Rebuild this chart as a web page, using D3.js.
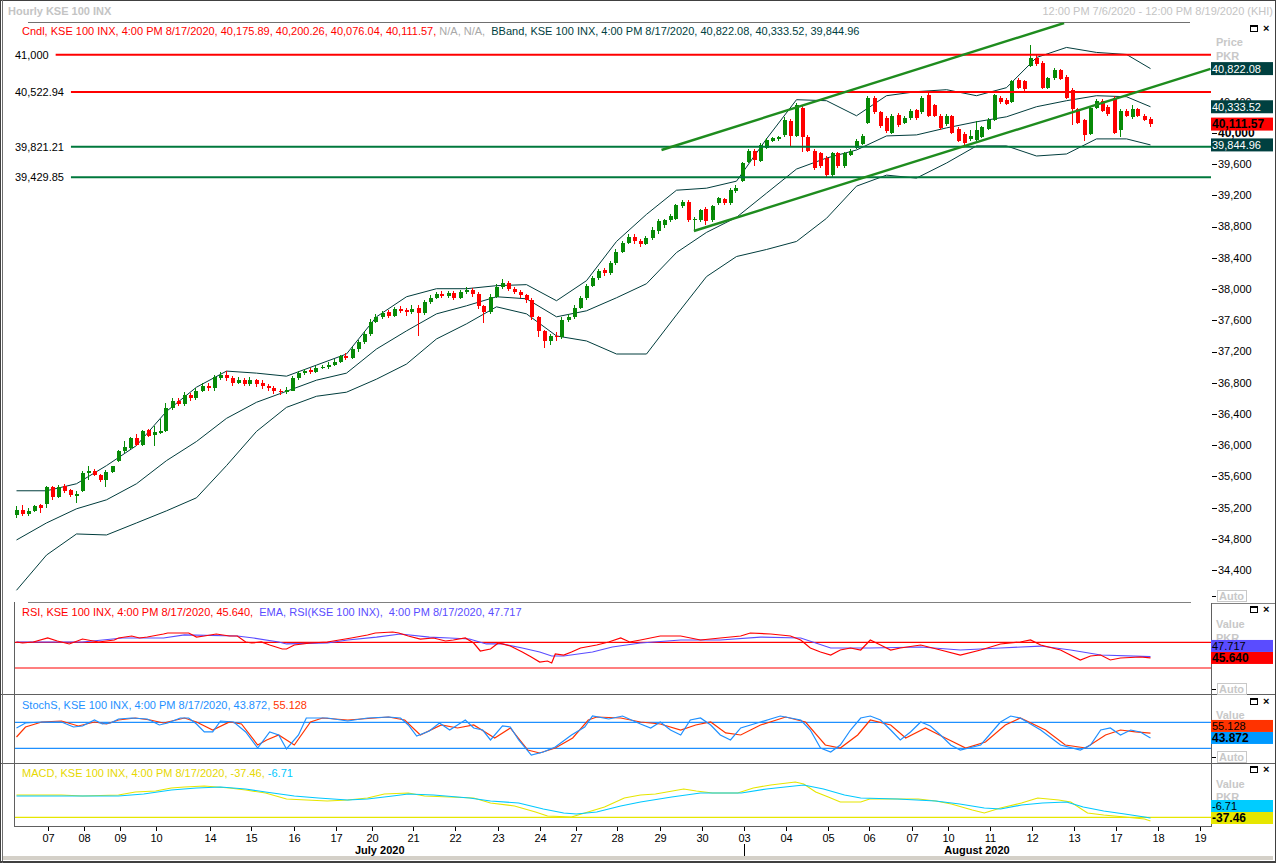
<!DOCTYPE html>
<html><head><meta charset="utf-8">
<script src="https://cdn.jsdelivr.net/npm/d3@7"></script>
<style>
html,body{margin:0;padding:0;background:#fff;overflow:hidden}
svg{display:block;font-family:"Liberation Sans",Arial,sans-serif;font-size:11px}
text{white-space:pre}
</style></head><body><svg id="c" width="1276" height="863"></svg>
<script>
// ---------- DATA ----------
const opens = [35110,35170,35120,35160,35230,35250,35460,35340,35480,35430,
35350,35420,35640,35670,35620,35550,35660,35800,35920,35970,
36090,36000,36190,36130,36160,36180,36480,36560,36530,36640,
36600,36700,36760,36730,36860,36900,36860,36800,36840,36780,
36840,36800,36760,36730,36700,36680,36700,36860,36920,36960,
36940,36990,37000,37030,37070,37140,37120,37230,37320,37420,
37580,37640,37700,37660,37740,37730,37700,37760,37690,37830,
37890,37940,37910,37950,37890,37960,37990,37940,37780,37700,
37900,38030,38080,38000,37960,37920,37860,37640,37460,37340,
37400,37380,37600,37640,37760,37880,38040,38140,38240,38200,
38330,38480,38590,38660,38620,38580,38650,38740,38820,38880,
38900,39060,39120,38880,38880,39030,38880,39100,39150,39100,
39260,39380,39630,39770,39640,39810,39900,39920,39970,40150,
39960,40320,39950,39770,39740,39680,39460,39740,39570,39720,
39810,39860,40130,40450,40260,40190,40000,40230,40130,40190,
40290,40260,40490,40350,40220,40110,40210,40050,39990,39920,
39910,39950,40050,40170,40450,40420,40400,40680,40660,40860,
40960,40900,40580,40700,40800,40720,40550,40300,40160,39990,
40320,40410,40330,40450,40040,40280,40200,40300,40220,40175.89];
const highs = [35220,35240,35190,35240,35250,35480,35480,35490,35500,35440,
35420,35670,35740,35690,35630,35680,35740,35940,36050,36100,
36140,36200,36210,36240,36330,36540,36600,36600,36680,36670,
36730,36800,36800,36900,36940,36950,36880,36870,36860,36870,
36850,36830,36780,36760,36720,36740,36880,36950,36980,36990,
37010,37030,37060,37100,37160,37180,37260,37350,37460,37620,
37680,37720,37730,37770,37780,37760,37790,37790,37860,37920,
37960,37970,37980,37980,37990,38030,38010,37960,37800,37930,
38060,38130,38100,38030,37990,37940,37880,37660,37480,37430,
37450,37640,37680,37790,37910,38070,38170,38260,38270,38360,
38510,38620,38700,38700,38640,38680,38790,38900,38900,38960,
39090,39140,39140,38920,39030,39050,39080,39180,39170,39290,
39330,39630,39790,39790,39870,39930,39950,39960,40200,40180,
40380,40350,39970,39790,39760,39700,39760,39760,39760,39790,
39920,39980,40470,40470,40280,40210,40240,40250,40210,40300,
40310,40470,40510,40370,40240,40240,40230,40070,40010,40030,
40150,40090,40190,40500,40470,40440,40680,40700,40680,41130,
41000,40920,40720,40830,40820,40740,40570,40320,40180,40340,
40430,40430,40350,40470,40300,40300,40350,40320,40240,40200.26];
const lows = [35070,35100,35100,35140,35130,35200,35300,35320,35390,35340,
35260,35400,35560,35600,35530,35460,35640,35780,35900,35950,
35990,35990,36110,35990,36140,36170,36450,36500,36500,36560,
36580,36680,36700,36700,36830,36820,36760,36780,36760,36760,
36750,36720,36700,36660,36640,36650,36690,36840,36900,36910,
36920,36970,36980,37010,37050,37090,37100,37200,37300,37400,
37560,37620,37630,37640,37690,37660,37680,37400,37670,37810,
37870,37880,37890,37860,37870,37940,37900,37740,37560,37680,
37880,38000,37970,37930,37890,37820,37600,37380,37240,37280,
37330,37360,37580,37620,37740,37860,38020,38110,38170,38180,
38310,38460,38570,38580,38540,38560,38630,38700,38780,38860,
38880,39040,38860,38750,38860,38820,38860,39080,39080,39080,
39230,39370,39610,39580,39620,39790,39880,39900,39950,39830,
39940,39760,39750,39530,39550,39440,39440,39550,39550,39700,
39790,39840,40110,40240,40060,40000,39980,40080,40110,40170,
40170,40240,40200,40200,40040,40090,39980,39880,39850,39900,
39890,39930,40030,40150,40370,40350,40380,40560,40540,40840,
40860,40560,40560,40680,40670,40430,40100,40110,39900,39970,
40300,40260,40220,39980,39950,40200,40180,40200,40150,40076.04];
const closes = [35170,35120,35160,35220,35200,35460,35340,35470,35410,35360,
35380,35650,35670,35620,35550,35660,35730,35930,35980,36090,
36000,36180,36120,36170,36180,36480,36560,36530,36640,36600,
36700,36760,36730,36870,36900,36860,36800,36840,36780,36840,
36790,36760,36730,36700,36680,36710,36860,36920,36950,36940,
36990,37000,37030,37070,37140,37120,37230,37320,37420,37580,
37640,37690,37660,37740,37720,37700,37750,37690,37830,37890,
37930,37910,37950,37890,37960,37990,37940,37780,37700,37900,
38030,38080,38000,37960,37920,37860,37640,37460,37340,37400,
37380,37600,37640,37760,37880,38040,38140,38230,38200,38330,
38480,38590,38660,38620,38580,38650,38760,38870,38880,38940,
39070,39120,38880,38900,39010,38870,39060,39160,39100,39270,
39290,39610,39770,39650,39850,39910,39930,39940,40170,39960,
40350,39950,39770,39550,39570,39460,39740,39570,39740,39770,
39900,39960,40450,40260,40090,40020,40220,40100,40190,40280,
40190,40450,40220,40220,40060,40220,40000,39900,39870,39960,
40040,40070,40170,40480,40390,40370,40660,40580,40560,40960,
40880,40580,40700,40810,40690,40450,40300,40130,39970,40320,
40410,40280,40240,40000,40280,40220,40300,40220,40170,40111.57];

const bbIdx = [0,5,10,15,20,25,30,35,40,45,50,55,60,65,70,75,80,85,90,95,100,105,110,115,120,125,130,135,140,145,150,155,160,165,170,175,180,185,189];
const bbUpper = [35417,35417,35507,35739,35996,36434,36743,36949,36923,36884,37026,37168,37644,37901,38004,38004,38043,38056,37850,38107,38609,38956,39265,39291,39381,39922,40424,40411,40218,40475,40527,40552,40475,40578,40964,41093,41029,41003,40822.08];
const bbMid = [34787,35005,35186,35301,35507,35803,36048,36344,36550,36691,36833,36923,37232,37464,37682,37785,37901,37875,37644,37721,37888,38068,38467,38725,38918,39227,39536,39677,39780,39960,39973,40063,40141,40205,40334,40411,40475,40462,40333.52];
const bbLower = [34143,34594,34864,34851,35005,35160,35327,35739,36177,36485,36627,36679,36846,37039,37361,37554,37772,37682,37399,37335,37168,37168,37669,38159,38416,38506,38609,38905,39317,39458,39420,39613,39832,39832,39703,39729,39922,39922,39844.96];

const levelValues = [41000, 40522.94, 39821.21, 39429.85];
const levelLabels = ["41,000", "40,522.94", "39,821.21", "39,429.85"];
const channelUpper = [[107.5, 39780], [174.6, 41406]];
const channelLower = [[112.9, 38743], [199, 40819]];

const rsiLine = [[0,70.5],[1,68.9],[2.8,70.5],[5.2,76.7],[6.8,72],[8.8,67.4],[11,75.1],[13.7,70.5],[16.3,73.6],[17,76.7],[19.2,79.8],[20.5,76.7],[21.8,78.2],[24.5,82.9],[25.2,84.5],[28.7,84.5],[30,78.2],[31.3,79.8],[33.3,82.9],[35.5,79.8],[36.8,79.8],[38.2,70.5],[39.2,68.9],[40.8,70.5],[42.2,65.8],[44.3,59.6],[45,59.6],[46.3,65.8],[49,68.9],[51.8,70.5],[53.8,73.6],[55.8,76.7],[58.5,81.4],[59.8,84.5],[62.7,86],[63.7,84.5],[65.3,79.8],[67.3,75.1],[69.5,76.7],[71.5,72],[72.8,73.6],[74.8,76.7],[76.2,68.9],[77.3,56.5],[79,59.6],[80.3,68.9],[82.3,64.2],[84.3,54.9],[85.8,47.1],[87.2,39.3],[88.5,40.9],[89.2,37.8],[89.8,51.8],[91.2,50.2],[92.5,54.9],[94,61.1],[96.7,65.8],[98.7,70.5],[100.7,76.7],[102.2,70.5],[104,73.6],[107.3,79.8],[110.7,79.8],[114,73.6],[117.3,76.7],[120.7,79.8],[122.3,84.5],[125.7,82.9],[129,79.8],[130.7,73.6],[132.3,61.1],[134,54.9],[135.7,50.2],[137.3,58],[139,61.1],[140.7,58],[142.3,73.6],[144,65.8],[145.7,58],[147.3,61.1],[150.7,65.8],[154,58],[157.3,50.2],[160.7,58],[164,67.4],[167.3,70.5],[169,73.6],[170.7,65.8],[174,58],[177.3,42.5],[179,48.7],[180.7,50.2],[182.3,42.5],[184,45.6],[187.3,47.1],[189,45.64]];
const rsiEma = [[0,70.5],[11,70.5],[17.7,76.7],[24.5,76.7],[28,81.4],[36.8,79.8],[39.5,76.7],[43.7,70.5],[45,67.4],[51.8,68.9],[55.2,73.6],[60,78.2],[64,82.9],[68.8,78.2],[72.2,76.7],[75.5,75.1],[78.3,67.4],[81,67.4],[84.3,61.1],[87.2,54.9],[89.2,48.7],[91.2,48.7],[96,54.9],[99.3,62.7],[104,68.9],[110.7,73.6],[117.3,73.6],[124,78.2],[130.7,76.7],[135.7,61.1],[142.3,61.1],[150.7,62.7],[157.3,58],[164,61.1],[170.7,64.2],[175.7,58],[180.7,50.2],[189,47.717]];
const stochK = [[0,66.9],[1.5,78.4],[4.2,80.7],[7.5,80.7],[9.5,69.2],[11,71.5],[13,85.3],[14.3,76.1],[15.7,78.4],[17,87.6],[19.2,89.9],[21.8,87.6],[23.8,73.8],[25.2,78.4],[27.3,89.9],[28.7,89.9],[30,76.1],[31.3,57.7],[32.7,57.7],[34,83],[36.2,80.7],[38.2,57.7],[40.2,20.7],[42.2,57.7],[43.7,50.7],[45,18.4],[47,50.7],[48.3,89.9],[51.8,89.9],[55.2,83],[58.5,89.9],[62,92.2],[64,89.9],[65.3,73.8],[66.7,48.4],[68.8,60],[70.5,78.4],[72.2,62.2],[74.8,85.3],[76.2,66.9],[77.7,62.2],[79,39.2],[81,71.5],[82.3,69.2],[83.7,39.2],[85.8,4.5],[87.8,11.5],[89.8,23],[92.5,50.7],[94.7,69.2],[96,94.5],[98.7,87.6],[101,94.5],[104,76.1],[105.7,66.9],[107.3,80.7],[109,62.2],[110.7,50.7],[112.3,85.3],[114,89.9],[115.7,73.8],[117.3,50.7],[119,39.2],[120.7,66.9],[124,80.7],[127.3,94.5],[130.7,85.3],[132.3,62.2],[134,20.7],[135.7,11.5],[137.3,27.6],[139,62.2],[140.7,89.9],[142.3,94.5],[144,85.3],[145.7,62.2],[147.3,39.2],[149,57.7],[150.7,80.7],[152.3,71.5],[154,50.7],[155.7,27.6],[157.3,16.1],[160.7,27.6],[164,80.7],[165.7,94.5],[167.3,89.9],[170.7,62.2],[174,27.6],[177.3,16.1],[179,27.6],[180.7,62.2],[182.3,66.9],[184,50.7],[185.7,62.2],[187.3,57.7],[189,43.872]];
const stochD = [[0,46.1],[1.5,69.2],[4.2,80.7],[7.5,83],[10.3,71.5],[13,80.7],[15,76.1],[17,85.3],[19.8,89.9],[22.3,85.3],[24.5,78.4],[28,89.9],[30,80.7],[32.7,62.2],[35.5,80.7],[37.5,76.1],[40.2,27.6],[41.7,39.2],[43.7,50.7],[46.3,27.6],[49,80.7],[51,89.9],[55.2,85.3],[62,92.2],[64.7,85.3],[67.3,50.7],[70.8,73.8],[73.5,66.9],[76.2,73.8],[79.7,43.8],[82.3,66.9],[85.2,16.1],[87.2,9.2],[89.8,20.7],[92.7,43.8],[95.3,85.3],[96.7,92.2],[100.7,89.9],[104,80.7],[107.3,76.1],[110.7,62.2],[113.2,73.8],[115.7,80.7],[118.2,55.4],[120.7,50.7],[124,73.8],[128.2,92.2],[131.5,80.7],[134.8,27.6],[137.3,20.7],[140.2,50.7],[142.3,85.3],[145.7,73.8],[148.2,43.8],[151.5,66.9],[154.8,43.8],[158.2,20.7],[161.5,34.5],[164.8,73.8],[167.3,89.9],[171.5,62.2],[174.8,27.6],[178.2,20.7],[181.5,50.7],[184,62.2],[186.5,57.7],[189,55.128]];
const macdLine = [[0,223],[4.2,223],[7.5,223],[11,213],[17,223],[19.8,253],[23.2,263],[25.8,293],[28,303],[31.3,313],[35.5,293],[38.2,273],[41.5,243],[45,183],[48.3,173],[51.8,163],[55.2,173],[58.5,193],[61.3,233],[65.3,243],[68,213],[72.2,203],[76.2,193],[79,143],[83,113],[86.5,53],[88.5,13],[92.5,3],[94.7,43],[98,103],[101.3,193],[104,223],[106.5,233],[111.2,283],[113.3,263],[116,243],[120.2,243],[122.8,293],[125.7,323],[129.8,353],[131.2,333],[133.2,253],[135.3,203],[137.3,153],[140.7,153],[142.2,183],[146.8,183],[150.3,183],[153.2,163],[155.8,133],[159.3,73],[161.3,43],[164,93],[167.5,143],[170.2,193],[173.7,173],[175.7,153],[178.5,43],[181.2,23],[184.7,3],[188,-17],[189,-37.46]];
const macdSignal = [[0,213],[17,213],[21.2,233],[25.8,273],[30,293],[34,303],[38.2,283],[41.5,253],[46.3,213],[50.3,193],[55.2,173],[58.5,183],[62.7,213],[65.3,233],[69.5,223],[75.5,193],[79,163],[83.7,143],[87.8,83],[91.2,43],[93.3,33],[96.7,53],[100.7,113],[104,153],[109.2,203],[114,243],[120.8,243],[125,283],[131.2,323],[134.5,283],[138,223],[140.7,193],[146.8,183],[153.2,163],[157.2,133],[161.3,93],[164,83],[167.5,123],[171,143],[175,153],[177.8,103],[181.2,63],[184.7,33],[188,3],[189,-6.71]];

const dayIdx = [5,11,17,23,32,39,46,53,59,66,73,80,87,93,100,107,114,121,128,135,142,149,155,162,169,176,183,190,197];
const dayLabels = ["07","08","09","10","14","15","16","17","20","21","22","23","24","27","28","29","30","03","04","05","06","07","10","11","12","13","17","18","19"];
const monthLabels = ["July 2020", "August 2020"];
const monthStart = [0, 121];
const priceTicks = [34400,34800,35200,35600,36000,36400,36800,37200,37600,38000,38400,38800,39200,39600,40000,40400];

// ---------- LAYOUT ----------
const svg = d3.select('#c');
const PL = 14, PR = 1211;
const x = d3.scaleLinear().domain([0, 199]).range([16.5, 1210.5]);
const yP = d3.scaleLinear().domain([34400, 41000]).range([570.2, 54.7]);
const yR = d3.scaleLinear().domain([30, 70]).range([668, 642.3]);
const yS = d3.scaleLinear().domain([20, 80]).range([748.3, 722.3]);
const yM = d3.scaleLinear().domain([0, 300]).range([817.3, 787.3]);

svg.append('rect').attr('width', 1276).attr('height', 863).attr('fill', '#fff');
const defs = svg.append('defs');
function clip(id, x0, y0, x1, y1) {
  defs.append('clipPath').attr('id', id).append('rect')
    .attr('x', x0).attr('y', y0).attr('width', x1 - x0).attr('height', y1 - y0);
}
clip('cMain', PL, 22.5, PR, 602);
clip('cRsi', PL + 1, 603, PR, 694);
clip('cSto', PL + 1, 695, PR, 763);
clip('cMacd', PL + 1, 764, PR, 826.5);

function hline(y, x1, x2, c, w) {
  svg.append('line').attr('x1', x1).attr('x2', x2).attr('y1', y).attr('y2', y)
    .attr('stroke', c).attr('stroke-width', w || 1).attr('shape-rendering', 'crispEdges');
}
function vline(xx, y1, y2, c, w) {
  svg.append('line').attr('x1', xx).attr('x2', xx).attr('y1', y1).attr('y2', y2)
    .attr('stroke', c).attr('stroke-width', w || 1).attr('shape-rendering', 'crispEdges');
}

// Titles
svg.append('text').attr('x', 8).attr('y', 15).attr('fill', '#c4c4c4').attr('font-weight', 'bold')
  .text('Hourly KSE 100 INX');
svg.append('text').attr('x', 1273).attr('y', 15).attr('fill', '#c4c4c4').attr('text-anchor', 'end')
  .text('12:00 PM 7/6/2020 - 12:00 PM 8/19/2020 (KHI)');

// panel separators / frame
hline(22.5, 28, 1190, '#707070');
hline(602.5, 28, 1191, '#808080');
hline(603.5, PR, 1276, '#808080');
hline(694.5, 0, 1276, '#606060');
hline(763.5, 0, 1276, '#606060');
hline(826.5, PL, PR, '#606060');
vline(PL + 0.5, 602, 827, '#606060');
vline(PR + 0.5, 603, 827, '#606060');

// ---------- MAIN PANEL ----------
const gM = svg.append('g').attr('clip-path', 'url(#cMain)');
const bbGen = d3.line().x((d, k) => x(bbIdx[k])).y(d => yP(d));
[bbUpper, bbMid, bbLower].forEach(arr => {
  gM.append('path').attr('d', bbGen(arr)).attr('fill', 'none')
    .attr('stroke', '#003c3c').attr('stroke-width', 1);
});

const candles = closes.map((c, i) => ({ i, o: opens[i], h: highs[i], l: lows[i], c }));
const col = d => d.c >= d.o ? '#078a07' : '#ff0000';
gM.selectAll('rect.wick').data(candles).join('rect').attr('class', 'wick')
  .attr('x', d => Math.round(x(d.i)) - 1).attr('width', 1)
  .attr('y', d => yP(d.h)).attr('height', d => Math.max(1, yP(d.l) - yP(d.h)))
  .attr('fill', col).attr('shape-rendering', 'crispEdges');
gM.selectAll('rect.body').data(candles).join('rect').attr('class', 'body')
  .attr('x', d => Math.round(x(d.i)) - 2).attr('width', 4)
  .attr('y', d => yP(Math.max(d.o, d.c)))
  .attr('height', d => Math.max(1, Math.abs(yP(d.o) - yP(d.c))))
  .attr('fill', col).attr('shape-rendering', 'crispEdges');

// horizontal levels
const levelColors = ['#ff0000', '#ff0000', '#00783c', '#00783c'];
levelValues.forEach((v, k) => {
  const t = svg.append('text').attr('x', 15).attr('y', yP(v)).attr('dy', '0.35em')
    .attr('fill', '#000').text(levelLabels[k]);
  const w = t.node().getComputedTextLength();
  gM.append('line').attr('x1', 15 + w + 7).attr('x2', PR).attr('y1', yP(v)).attr('y2', yP(v))
    .attr('stroke', levelColors[k]).attr('stroke-width', 2);
});

// channel lines
[channelUpper, channelLower].forEach(seg => {
  gM.append('line').attr('x1', x(seg[0][0])).attr('y1', yP(seg[0][1]))
    .attr('x2', x(seg[1][0])).attr('y2', yP(seg[1][1]))
    .attr('stroke', '#1e8c1e').attr('stroke-width', 2.4);
});

// legend main
const lg = svg.append('text').attr('x', 22).attr('y', 35);
lg.append('tspan').attr('fill', '#ff0000')
  .text('Cndl, KSE 100 INX, 4:00 PM 8/17/2020, 40,175.89, 40,200.26, 40,076.04, 40,111.57,');
lg.append('tspan').attr('fill', '#a8a8a8').text(' N/A, N/A,');
lg.append('tspan').attr('fill', '#004040')
  .text('  BBand, KSE 100 INX, 4:00 PM 8/17/2020, 40,822.08, 40,333.52, 39,844.96');

// right axis (main)
const fmt = d3.format(',');
priceTicks.forEach(v => {
  svg.append('line').attr('x1', 1212).attr('x2', 1217).attr('y1', Math.round(yP(v)) + 0.5)
    .attr('y2', Math.round(yP(v)) + 0.5).attr('stroke', '#000');
  svg.append('text').attr('x', 1218).attr('y', yP(v)).attr('dy', '0.36em')
    .attr('font-weight', v === 40000 ? 'bold' : 'normal')
    .attr('font-size', v === 40000 ? '12px' : '11px').text(fmt(v));
});

function headerIcons(y) {
  svg.append('rect').attr('x', 1250.5).attr('y', y - 3.5).attr('width', 7).attr('height', 6)
    .attr('fill', 'none').attr('stroke', '#000');
  hline(y - 3, 1250, 1258, '#000', 2);
  svg.append('text').attr('x', 1263).attr('y', y + 3).attr('font-weight', 'bold')
    .attr('font-size', '11px').text('×');
}
function grayLabel(t, y) {
  svg.append('text').attr('x', 1216).attr('y', y).attr('fill', '#c8c8c8')
    .attr('font-weight', 'bold').text(t);
}
function autoBtn(y) {
  svg.append('rect').attr('x', 1217.5).attr('y', y + 0.5).attr('width', 29).attr('height', 11)
    .attr('fill', '#fff').attr('stroke', '#c8c8c8');
  svg.append('text').attr('x', 1219).attr('y', y + 10).attr('fill', '#c8c8c8')
    .attr('font-weight', 'bold').text('Auto');
  hline(y + 6.5, 1212, 1216, '#000');
}

headerIcons(29);
grayLabel('Price', 46);
grayLabel('PKR', 60);
autoBtn(590);

function valueBoxes(items, yscale, top, bottom, h) {
  const placed = [];
  items.forEach((it, k) => {
    let c = yscale(it.v);
    c = Math.max(top + h / 2 + 1, Math.min(bottom - h / 2 - 3, c));
    if (k > 0) {
      placed.forEach(p => {
        if (Math.abs(c - p) < h) c = (yscale(it.v) < yscale(items[0].v)) ? p - h : p + h;
      });
    }
    placed.push(c);
    svg.append('rect').attr('x', PR).attr('y', c - h / 2).attr('width', 62).attr('height', h)
      .attr('fill', it.bg);
    svg.append('text').attr('x', PR + 1).attr('y', c).attr('dy', '0.36em')
      .attr('fill', it.fg).attr('font-weight', it.bold ? 'bold' : 'normal')
      .attr('font-size', it.bold ? '12px' : '11px').text(it.t);
  });
}
valueBoxes([
  { v: 40111.57, t: '40,111.57', bg: '#ff0000', fg: '#000', bold: true },
  { v: 40822.08, t: '40,822.08', bg: '#004040', fg: '#fff' },
  { v: 40333.52, t: '40,333.52', bg: '#004040', fg: '#fff' },
  { v: 39844.96, t: '39,844.96', bg: '#004040', fg: '#fff' }
], yP, 22, 602, 13);

// ---------- RSI ----------
const lineGen = ys => d3.line().x(d => x(d[0])).y(d => ys(d[1]));
const gR = svg.append('g').attr('clip-path', 'url(#cRsi)');
[70, 30].forEach(v => gR.append('line').attr('x1', PL).attr('x2', PR)
  .attr('y1', yR(v)).attr('y2', yR(v)).attr('stroke', '#ff0000').attr('stroke-width', 1.2));
gR.append('path').attr('d', lineGen(yR)(rsiEma)).attr('fill', 'none').attr('stroke', '#5a4cff').attr('stroke-width', 1.2);
gR.append('path').attr('d', lineGen(yR)(rsiLine)).attr('fill', 'none').attr('stroke', '#ff0000').attr('stroke-width', 1.2);
const lr = svg.append('text').attr('x', 22).attr('y', 616);
lr.append('tspan').attr('fill', '#ff0000').text('RSI, KSE 100 INX, 4:00 PM 8/17/2020, 45.640,');
lr.append('tspan').attr('fill', '#5a4cff').text('  EMA, RSI(KSE 100 INX),  4:00 PM 8/17/2020, 47.717');
headerIcons(610);
grayLabel('Value', 628);
grayLabel('PKR', 642);
autoBtn(683);
valueBoxes([
  { v: 45.64, t: '45.640', bg: '#ff0000', fg: '#000', bold: true },
  { v: 47.717, t: '47.717', bg: '#5a4cff', fg: '#000' }
], yR, 603, 694, 12);

// ---------- STOCH ----------
const gS = svg.append('g').attr('clip-path', 'url(#cSto)');
[80, 20].forEach(v => gS.append('line').attr('x1', PL).attr('x2', PR)
  .attr('y1', yS(v)).attr('y2', yS(v)).attr('stroke', '#1e90ff').attr('stroke-width', 1.2));
gS.append('path').attr('d', lineGen(yS)(stochD)).attr('fill', 'none').attr('stroke', '#ff3300').attr('stroke-width', 1.2);
gS.append('path').attr('d', lineGen(yS)(stochK)).attr('fill', 'none').attr('stroke', '#1e90ff').attr('stroke-width', 1.2);
const ls = svg.append('text').attr('x', 22).attr('y', 709);
ls.append('tspan').attr('fill', '#1e90ff').text('StochS, KSE 100 INX, 4:00 PM 8/17/2020, 43.872,');
ls.append('tspan').attr('fill', '#ff3300').text(' 55.128');
headerIcons(702);
grayLabel('Value', 719);
autoBtn(751);
valueBoxes([
  { v: 43.872, t: '43.872', bg: '#0099ff', fg: '#000', bold: true },
  { v: 55.128, t: '55.128', bg: '#ff3300', fg: '#000' }
], yS, 695, 763, 12);

// ---------- MACD ----------
const gD = svg.append('g').attr('clip-path', 'url(#cMacd)');
gD.append('line').attr('x1', PL).attr('x2', PR).attr('y1', yM(0)).attr('y2', yM(0))
  .attr('stroke', '#e6e600').attr('stroke-width', 1.2);
gD.append('path').attr('d', lineGen(yM)(macdLine)).attr('fill', 'none').attr('stroke', '#e6e600').attr('stroke-width', 1.2);
gD.append('path').attr('d', lineGen(yM)(macdSignal)).attr('fill', 'none').attr('stroke', '#00c8ff').attr('stroke-width', 1.2);
const lmd = svg.append('text').attr('x', 22).attr('y', 777);
lmd.append('tspan').attr('fill', '#e6d800').text('MACD, KSE 100 INX, 4:00 PM 8/17/2020, -37.46,');
lmd.append('tspan').attr('fill', '#00c8ff').text(' -6.71');
headerIcons(770);
grayLabel('Value', 788);
grayLabel('PKR', 801);
valueBoxes([
  { v: -37.46, t: '-37.46', bg: '#e6e600', fg: '#000', bold: true },
  { v: -6.71, t: '-6.71', bg: '#00ccff', fg: '#000' }
], yM, 764, 827, 12);

// ---------- X AXIS ----------
dayIdx.forEach((d, k) => {
  const xx = Math.round(x(d)) + 1.5;
  vline(xx, 827, 831, '#000');
  svg.append('text').attr('x', xx).attr('y', 842).attr('text-anchor', 'middle').text(dayLabels[k]);
});
const monthEdges = [x(monthStart[0]) - 0.5, x(monthStart[1]) + 1, x.range()[1]];
monthLabels.forEach((m, k) => {
  svg.append('text').attr('x', (monthEdges[k] + monthEdges[k + 1]) / 2).attr('y', 854)
    .attr('text-anchor', 'middle').attr('font-weight', 'bold').text(m);
});
vline(Math.round(x(monthStart[1])) + 1.5, 844, 857, '#000');

// bottom scrollbar + window frame
svg.append('rect').attr('x', 3).attr('y', 856).attr('width', 1270).attr('height', 4).attr('fill', '#d4d0c8');
svg.append('rect').attr('x', 0.5).attr('y', 0.5).attr('width', 1275).attr('height', 862)
  .attr('fill', 'none').attr('stroke', '#404040').attr('stroke-width', 1);
vline(2, 0, 863, '#707070', 1);
hline(861, 0, 1276, '#404040', 1);
</script></body></html>
